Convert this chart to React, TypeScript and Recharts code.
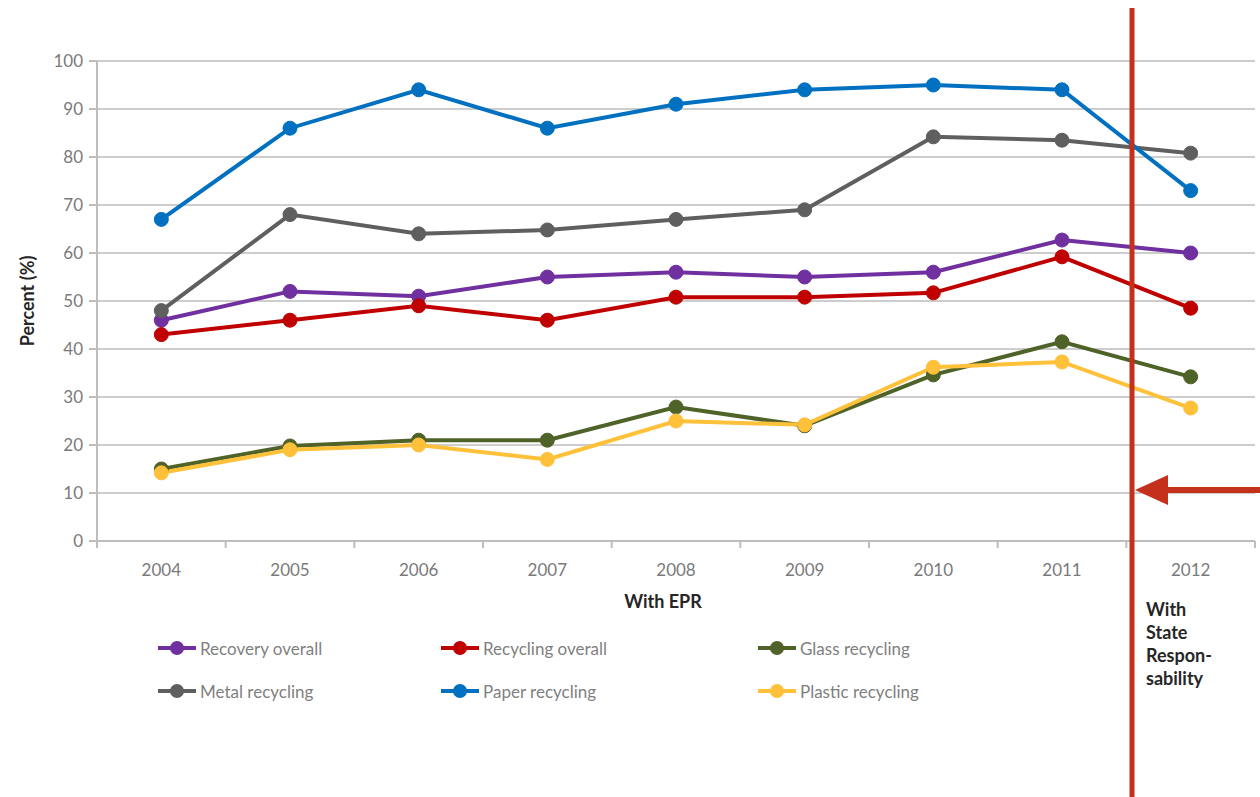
import React from 'react';
import { LineChart, Line, XAxis, YAxis, CartesianGrid, Legend } from 'recharts';

const years = ['2004', '2005', '2006', '2007', '2008', '2009', '2010', '2011', '2012'];
const recoveryOverall = [46, 52, 51, 55, 56, 55, 56, 62.7, 60];
const recyclingOverall = [43, 46, 49, 46, 50.8, 50.8, 51.7, 59.2, 48.5];
const glassRecycling = [15, 19.8, 21, 21, 27.9, 24, 34.6, 41.5, 34.2];
const metalRecycling = [48, 68, 64, 64.8, 67, 69, 84.2, 83.5, 80.8];
const paperRecycling = [67, 86, 94, 86, 91, 94, 95, 94, 73];
const plasticRecycling = [14.2, 19, 20, 17, 25, 24.2, 36.2, 37.3, 27.7];
const yTicks = [0, 10, 20, 30, 40, 50, 60, 70, 80, 90, 100];

const series = [
  { key: 'recovery', name: 'Recovery overall', color: '#7030A0', values: recoveryOverall },
  { key: 'recycling', name: 'Recycling overall', color: '#C00000', values: recyclingOverall },
  { key: 'glass', name: 'Glass recycling', color: '#4F6228', values: glassRecycling },
  { key: 'metal', name: 'Metal recycling', color: '#5F5F5F', values: metalRecycling },
  { key: 'paper', name: 'Paper recycling', color: '#0070C0', values: paperRecycling },
  { key: 'plastic', name: 'Plastic recycling', color: '#FFC03A', values: plasticRecycling },
];

const data = years.map((year, i) => {
  const row: Record<string, string | number> = { year };
  series.forEach((s) => {
    row[s.key] = s.values[i];
  });
  return row;
});

const FONT = 'Lato, "Open Sans", sans-serif';
const RED = '#C4301B';
const AXIS_GRAY = '#bdbdbd';
const TICK_MARGIN = 23;

// legend slots, row-major like the Excel legend
const legendPos = [
  { left: 157, top: 637 },
  { left: 440, top: 637 },
  { left: 757, top: 637 },
  { left: 157, top: 680 },
  { left: 440, top: 680 },
  { left: 757, top: 680 },
];

const renderLegend = () => (
  <div style={{ position: 'relative', width: 1260, height: 100 }}>
    {series.map((s, i) => (
      <div
        key={s.key}
        style={{
          position: 'absolute',
          left: legendPos[i].left,
          top: legendPos[i].top - 630,
          display: 'flex',
          alignItems: 'center',
          height: 22,
        }}
      >
        <svg width={42} height={22}>
          <line x1={1} y1={11} x2={39} y2={11} stroke={s.color} strokeWidth={4} />
          <circle cx={20} cy={11} r={7} fill={s.color} />
        </svg>
        <span style={{ fontFamily: FONT, fontSize: 17, color: '#7f7f7f', marginLeft: 1, whiteSpace: 'nowrap' }}>
          {s.name}
        </span>
      </div>
    ))}
  </div>
);

// Excel-style category axis: tick marks sit on band edges, labels in the middle
const YearTick = (props: any) => {
  const { x, y, payload, index, visibleTicksCount } = props;
  const half = payload.offset || 0;
  const axisY = y - TICK_MARGIN;
  const isLast = index === visibleTicksCount - 1;
  return (
    <g>
      <line x1={x - half} y1={axisY} x2={x - half} y2={axisY + 7} stroke={AXIS_GRAY} strokeWidth={2} />
      {isLast && (
        <line x1={x + half} y1={axisY} x2={x + half} y2={axisY + 7} stroke={AXIS_GRAY} strokeWidth={2} />
      )}
      <text x={x} y={y} dy="0.71em" textAnchor="middle" fill="#7a7a7a" fontSize={17} fontFamily={FONT}>
        {payload.value}
      </text>
    </g>
  );
};

export default function App() {
  return (
    <div style={{ position: 'absolute', left: 0, top: 0, width: 1260, height: 797, background: '#fff' }}>
      <LineChart
        width={1260}
        height={797}
        data={data}
        margin={{ top: 61, right: 5, left: 0, bottom: 226 }}
        style={{ fontFamily: FONT }}
      >
        <CartesianGrid vertical={false} stroke="#cdcdcd" strokeWidth={2} />
        <XAxis
          dataKey="year"
          scale="band"
          height={30}
          axisLine={{ stroke: AXIS_GRAY, strokeWidth: 2 }}
          tickLine={false}
          tickSize={0}
          tickMargin={TICK_MARGIN}
          interval={0}
          tick={<YearTick />}
        />
        <YAxis
          domain={[0, 100]}
          ticks={yTicks}
          width={97}
          axisLine={{ stroke: AXIS_GRAY, strokeWidth: 2 }}
          tickLine={{ stroke: AXIS_GRAY, strokeWidth: 2 }}
          tickSize={8}
          tickMargin={6}
          tick={{ fill: '#7a7a7a', fontSize: 17 }}
          label={{
            value: 'Percent (%)',
            angle: -90,
            position: 'insideLeft',
            offset: 28,
            style: { fontWeight: 700, fontSize: 18, fill: '#262626', textAnchor: 'middle' },
          }}
        />
        <Legend
          layout="horizontal"
          verticalAlign="middle"
          align="center"
          content={renderLegend}
          wrapperStyle={{ left: 0, top: 630, width: 1260 }}
        />
        {series.map((s) => (
          <Line
            key={s.key}
            dataKey={s.key}
            name={s.name}
            stroke={s.color}
            strokeWidth={4}
            dot={{ r: 7, fill: s.color, stroke: s.color, strokeWidth: 1 }}
            activeDot={false}
            isAnimationActive={false}
          />
        ))}
      </LineChart>

      <div
        style={{
          position: 'absolute',
          left: 563,
          top: 590,
          width: 200,
          textAlign: 'center',
          fontFamily: FONT,
          fontWeight: 700,
          fontSize: 18,
          color: '#262626',
        }}
      >
        With EPR
      </div>
      <div
        style={{
          position: 'absolute',
          left: 1146,
          top: 598,
          fontFamily: FONT,
          fontWeight: 700,
          fontSize: 18,
          lineHeight: '23px',
          color: '#262626',
        }}
      >
        With
        <br />
        State
        <br />
        Respon-
        <br />
        sability
      </div>

      <svg
        width={1260}
        height={797}
        style={{ position: 'absolute', left: 0, top: 0, pointerEvents: 'none' }}
      >
        <line x1={1132} y1={8} x2={1132} y2={797} stroke={RED} strokeWidth={5} />
        <line x1={1160} y1={490} x2={1260} y2={490} stroke={RED} strokeWidth={6} />
        <polygon points="1135,490 1168,475 1168,505" fill={RED} />
      </svg>
    </div>
  );
}
